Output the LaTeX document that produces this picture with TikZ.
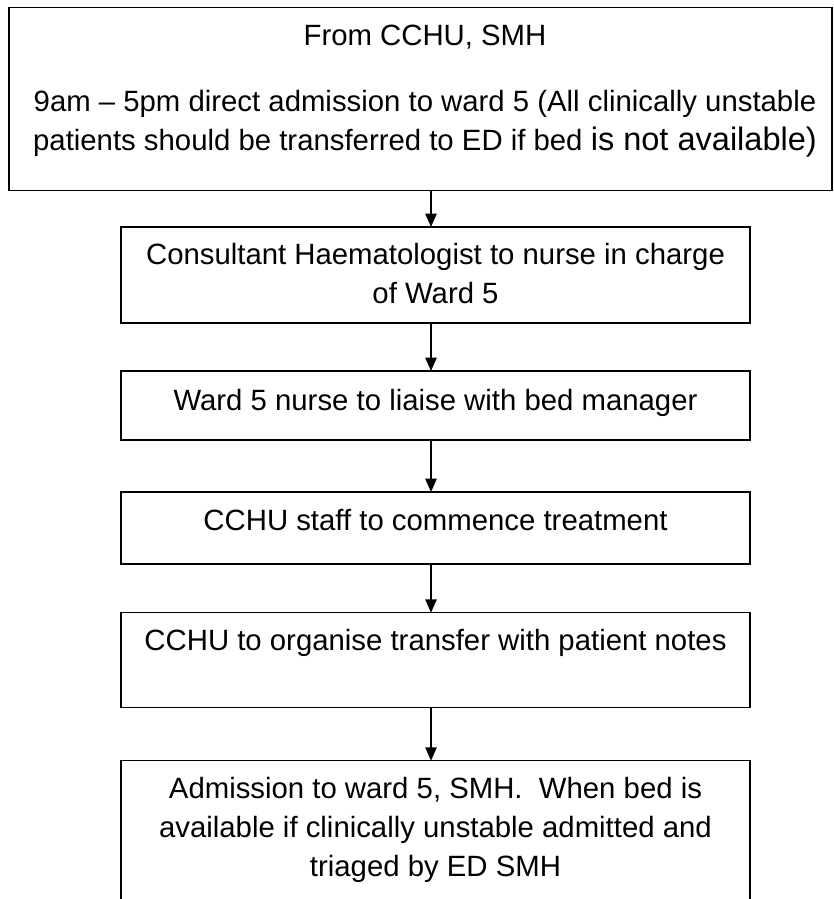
\documentclass[tikz,border=0pt]{standalone}
\usepackage{fontspec}
\setmainfont{Liberation Sans}
\usetikzlibrary{arrows.meta}
\begin{document}
\begin{tikzpicture}[x=0.75pt,y=-0.75pt,
  box/.style={draw,line width=1.1pt,inner sep=0pt,outer sep=0pt},
  txt/.style={anchor=base,align=center,inner sep=0pt,
    font=\fontsize{22}{29.25}\selectfont},
  arr/.style={line width=1.1pt,-{Triangle[length=10pt,width=8.5pt]}}]
\useasboundingbox (0,0) rectangle (833,899);
\clip (0,0) rectangle (833,899);
% boxes
\node[box,minimum width=617.25pt,minimum height=137pt] (b1) at (420.5,99) {};
\node[box,minimum width=471.75pt,minimum height=72pt] (b2) at (435.5,275) {};
\node[box,minimum width=471.75pt,minimum height=51.75pt] (b3) at (435.5,405.5) {};
\node[box,minimum width=471.75pt,minimum height=54pt] (b4) at (435.5,528) {};
\node[box,minimum width=471.75pt,minimum height=71.25pt] (b5) at (435.5,660.2) {};
\node[box,minimum width=471.75pt,minimum height=150pt] (b6) at (435.5,860.7) {};
% texts
\node[txt] (t1) at (425,150.5) {From CCHU, SMH\\[20.25pt]9am – 5pm direct admission to ward 5 (All clinically unstable\\patients should be transferred to ED if bed {\fontsize{24.4}{29.25}\selectfont is not available)}};
\node[txt] (t2) at (435.5,303) {Consultant Haematologist to nurse in charge\\of Ward 5};
\node[txt] (t3) at (435.5,410) {Ward 5 nurse to liaise with bed manager};
\node[txt] (t4) at (435.5,530) {CCHU staff to commence treatment};
\node[txt] (t5) at (435.5,650.7) {CCHU to organise transfer with patient notes};
\node[txt] (t6) at (435.5,876.3) {Admission to ward 5, SMH.\ \ When bed is\\available if clinically unstable admitted and\\triaged by ED SMH};
% connectors
\coordinate (ax) at (431,0);
\draw[arr] (b1.south -| ax) -- (b2.north -| ax);
\draw[arr] (b2.south -| ax) -- (b3.north -| ax);
\draw[arr] (b3.south -| ax) -- (b4.north -| ax);
\draw[arr] (b4.south -| ax) -- (b5.north -| ax);
\draw[arr] (b5.south -| ax) -- (b6.north -| ax);
\end{tikzpicture}
\end{document}
